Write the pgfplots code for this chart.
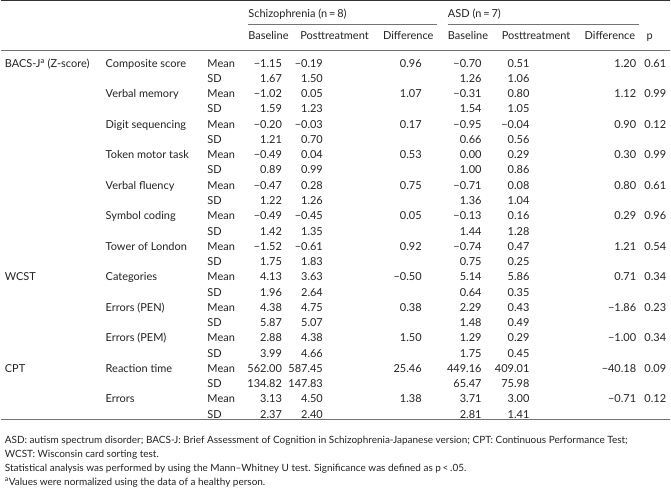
\documentclass[border=0pt]{standalone}
\usepackage{fontspec}
\setmainfont{Lato}
\usepackage{pgfplots}
\usepackage{pgfplotstable}
\pgfplotsset{compat=1.18}
\definecolor{txt}{HTML}{222222}
\pgfplotstableread[col sep=comma]{
row,g,m,s,sb,sp,sd,ab,ap,ad,p
0,,Composite score,Mean,−1.15,−0.19,0.96,−0.70,0.51,1.20,0.61
1,,,SD,1.67,1.50,,1.26,1.06,,
2,,Verbal memory,Mean,−1.02,0.05,1.07,−0.31,0.80,1.12,0.99
3,,,SD,1.59,1.23,,1.54,1.05,,
4,,Digit sequencing,Mean,−0.20,−0.03,0.17,−0.95,−0.04,0.90,0.12
5,,,SD,1.21,0.70,,0.66,0.56,,
6,,Token motor task,Mean,−0.49,0.04,0.53,0.00,0.29,0.30,0.99
7,,,SD,0.89,0.99,,1.00,0.86,,
8,,Verbal fluency,Mean,−0.47,0.28,0.75,−0.71,0.08,0.80,0.61
9,,,SD,1.22,1.26,,1.36,1.04,,
10,,Symbol coding,Mean,−0.49,−0.45,0.05,−0.13,0.16,0.29,0.96
11,,,SD,1.42,1.35,,1.44,1.28,,
12,,Tower of London,Mean,−1.52,−0.61,0.92,−0.74,0.47,1.21,0.54
13,,,SD,1.75,1.83,,0.75,0.25,,
14,WCST,Categories,Mean,4.13,3.63,−0.50,5.14,5.86,0.71,0.34
15,,,SD,1.96,2.64,,0.64,0.35,,
16,,Errors (PEN),Mean,4.38,4.75,0.38,2.29,0.43,−1.86,0.23
17,,,SD,5.87,5.07,,1.48,0.49,,
18,,Errors (PEM),Mean,2.88,4.38,1.50,1.29,0.29,−1.00,0.34
19,,,SD,3.99,4.66,,1.75,0.45,,
20,CPT,Reaction time,Mean,562.00,587.45,25.46,449.16,409.01,−40.18,0.09
21,,,SD,134.82,147.83,,65.47,75.98,,
22,,Errors,Mean,3.13,4.50,1.38,3.71,3.00,−0.71,0.12
23,,,SD,2.37,2.40,,2.81,1.41,,
}\tbl
\pgfplotsset{
  cellL/.style={draw=none, mark=none, nodes near coords, point meta=explicit symbolic,
    nodes near coords style={anchor=mid west, inner sep=0pt, font=\fontsize{11}{13}\selectfont, text=txt}},
  cellR/.style={draw=none, mark=none, nodes near coords, point meta=explicit symbolic,
    nodes near coords style={anchor=mid east, inner sep=0pt, font=\fontsize{11}{13}\selectfont, text=txt}},
}
\begin{document}
\begin{tikzpicture}
\begin{axis}[
  scale only axis, width=671pt, height=489pt,
  xmin=0, xmax=671, ymin=0, ymax=489, y dir=reverse,
  axis lines=none, clip=false,
]
% rules
\addplot[black!80, line width=1.4pt] coordinates {(0,1) (671,1)};
\addplot[black!55, line width=0.7pt] coordinates {(248,25) (437,25)};
\addplot[black!55, line width=0.7pt] coordinates {(448,25) (640,25)};
\addplot[black!55, line width=0.7pt] coordinates {(0,51) (671,51)};
\addplot[black!55, line width=1.1pt] coordinates {(0,421) (671,421)};
% body
\addplot[cellL] table[x expr=4, y expr=65+15.3*\thisrow{row}, meta=g]{\tbl};
\addplot[cellL] table[x expr=105, y expr=65+15.3*\thisrow{row}, meta=m]{\tbl};
\addplot[cellL] table[x expr=207, y expr=65+15.3*\thisrow{row}, meta=s]{\tbl};
\addplot[cellR] table[x expr=282, y expr=65+15.3*\thisrow{row}, meta=sb]{\tbl};
\addplot[cellR] table[x expr=323, y expr=65+15.3*\thisrow{row}, meta=sp]{\tbl};
\addplot[cellR] table[x expr=422, y expr=65+15.3*\thisrow{row}, meta=sd]{\tbl};
\addplot[cellR] table[x expr=482, y expr=65+15.3*\thisrow{row}, meta=ab]{\tbl};
\addplot[cellR] table[x expr=530, y expr=65+15.3*\thisrow{row}, meta=ap]{\tbl};
\addplot[cellR] table[x expr=637, y expr=65+15.3*\thisrow{row}, meta=ad]{\tbl};
\addplot[cellR] table[x expr=667, y expr=65+15.3*\thisrow{row}, meta=p]{\tbl};
% headers
\begin{scope}[every node/.style={inner sep=0pt, anchor=mid west, font=\fontsize{11}{13}\selectfont, text=txt}]
\node at (axis cs:4,65) {BACS-J\textsuperscript{a} (Z-score)};
\node at (axis cs:248,15) {Schizophrenia (n\,=\,8)};
\node at (axis cs:448,15) {ASD (n\,=\,7)};
\node at (axis cs:248,37) {Baseline};
\node at (axis cs:300,37) {Posttreatment};
\node at (axis cs:383,37) {Difference};
\node at (axis cs:448,37) {Baseline};
\node at (axis cs:502,37) {Posttreatment};
\node at (axis cs:585,37) {Difference};
\node at (axis cs:647,37) {p};
\end{scope}
\begin{scope}[every node/.style={inner sep=0pt, anchor=mid west, font=\fontsize{10}{12}\selectfont, text=txt}]
\node at (axis cs:4,442) {ASD: autism spectrum disorder; BACS-J: Brief Assessment of Cognition in Schizophrenia-Japanese version; CPT: Continuous Performance Test;};
\node at (axis cs:4,456) {WCST: Wisconsin card sorting test.};
\node at (axis cs:4,470) {Statistical analysis was performed by using the Mann–Whitney U test. Significance was defined as p\,<\,.05.};
\node at (axis cs:4,484) {\textsuperscript{a}Values were normalized using the data of a healthy person.};
\end{scope}
\end{axis}
\end{tikzpicture}
\end{document}
